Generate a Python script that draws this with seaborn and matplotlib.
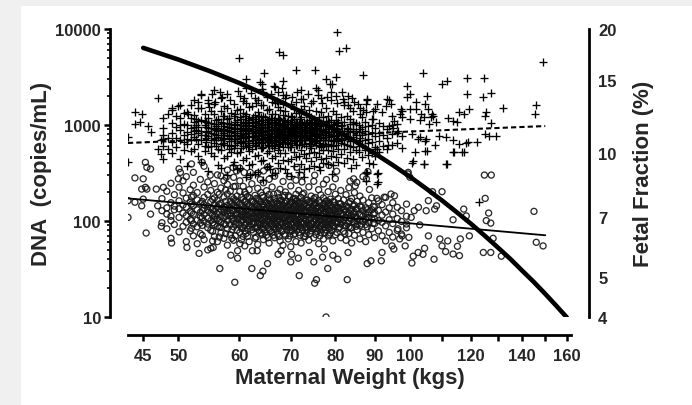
import matplotlib
matplotlib.use("Agg")
import matplotlib.pyplot as plt
import seaborn as sns
import pandas as pd
from matplotlib.patches import Rectangle
from matplotlib.ticker import NullLocator, NullFormatter, LogLocator

# total DNA (+): weight columns (kg) and the copies/mL read in each column
plus_col_kg = [
    47.8, 48.4, 49.0, 49.6, 50.2, 50.8, 51.3, 51.9, 52.4, 53.0,
    53.5, 54.1, 54.6, 55.2, 55.7, 56.3, 56.8, 57.4, 57.9, 58.5,
    59.0, 59.6, 60.1, 60.7, 61.2, 61.8, 62.3, 62.9, 63.4, 64.0,
    64.5, 65.1, 65.6, 66.2, 66.7, 67.3, 67.8, 68.4, 68.9, 69.5,
    70.0, 70.6, 71.1, 71.7, 72.2, 72.8, 73.3, 73.9, 74.4, 75.0,
    75.6, 76.1, 76.7, 77.2, 77.8, 78.3, 78.9, 79.5, 80.1, 80.7,
    81.4, 82.1, 82.8, 83.5, 84.3, 85.0, 85.8, 86.6, 87.4, 88.3,
    89.2, 90.1, 91.2, 92.3, 93.5, 94.8, 96.2, 97.8,
    # second pass over the dense core
    52.7, 54.3, 55.9, 57.1, 58.2, 59.3, 60.4, 61.0, 61.5, 62.6,
    63.1, 63.7, 64.3, 64.8, 65.4, 65.9, 66.5, 67.0, 67.6, 68.1,
    68.7, 69.2, 69.8, 70.3, 70.9, 71.4, 72.0, 72.5, 73.1, 73.6,
    74.2, 74.7, 75.3, 75.8, 76.4, 77.0, 77.5, 78.6, 79.7, 80.4,
    81.7, 83.0, 84.4, 86.0,
]
plus_col_dna = [
    [610, 940, 1170, 780],
    [730, 1290, 560],
    [505, 820, 1060, 1450, 670],
    [590, 960, 740, 1230],
    [440, 700, 890, 1180, 1630, 1010],
    [550, 1030, 1340, 790, 660],
    [375, 630, 845, 1000, 1380, 720],
    [690, 935, 1175, 540, 810],
    [565, 745, 960, 1260, 1840, 1070, 860],
    [470, 830, 1090, 1490, 640, 950],
    [415, 690, 875, 1120, 1520, 2040, 780],
    [610, 790, 990, 1300, 530, 1110],
    [335, 585, 765, 925, 1190, 1710, 860, 1040],
    [505, 695, 1060, 1400, 820, 610, 940],
    [475, 655, 815, 1025, 1310, 1640, 2330, 740, 900],
    [385, 560, 745, 935, 1160, 860, 1020],
    [355, 545, 705, 880, 1085, 1410, 1920, 630, 790],
    [455, 620, 795, 975, 1245, 1570, 710, 860],
    [300, 470, 625, 785, 955, 1160, 1510, 2120, 880, 1050],
    [525, 680, 850, 1030, 1330, 760, 920, 600],
    [410, 580, 720, 865, 1005, 1255, 1660, 790, 940],
    [345, 505, 655, 795, 935, 1125, 1430, 720, 1020],
    [355, 520, 685, 825, 995, 1210, 1460, 2010, 760, 900],
    [435, 605, 755, 895, 1065, 1340, 1790, 680, 970],
    [285, 455, 600, 750, 905, 1085, 1310, 1710, 2420, 830, 1000],
    [380, 535, 680, 820, 975, 1185, 1525, 620, 890],
    [395, 565, 695, 835, 965, 1155, 1560, 760, 1050],
    [310, 475, 625, 765, 905, 1065, 1285, 1910, 700, 840],
    [325, 485, 645, 775, 915, 1105, 1355, 1810, 720, 990],
    [420, 575, 715, 855, 1005, 1225, 1610, 650, 930],
    [265, 435, 595, 735, 875, 1025, 1255, 1610, 2210, 800, 960],
    [365, 515, 665, 805, 945, 1135, 1425, 720, 870],
    [375, 535, 685, 805, 955, 1155, 1455, 610, 1070],
    [305, 455, 605, 745, 885, 1045, 1305, 1755, 820, 680],
    [315, 475, 615, 755, 885, 1055, 1305, 1705, 2510, 930, 700],
    [405, 555, 705, 845, 995, 1195, 1555, 770, 630],
    [355, 515, 665, 805, 955, 1125, 1425, 880, 730],
    [435, 585, 735, 875, 1035, 1265, 1655, 2060, 810, 980],
    [345, 505, 655, 795, 935, 1105, 1405, 1910, 720],
    [425, 585, 725, 865, 1015, 1235, 640, 930],
    [295, 445, 595, 735, 875, 1035, 1255, 1655, 800, 1120],
    [375, 525, 675, 815, 965, 1155, 1485, 740],
    [465, 615, 765, 915, 1085, 1345, 1755, 690, 850],
    [325, 475, 625, 765, 905, 1075, 1325, 960],
    [395, 545, 695, 835, 995, 1205, 1455, 1860, 2310, 760],
    [345, 495, 635, 775, 915, 1085, 1565, 700],
    [455, 605, 745, 885, 1045, 1305, 820],
    [355, 505, 655, 795, 945, 1125, 1435, 730],
    [425, 575, 715, 855, 1015, 1225, 1705, 640],
    [375, 525, 665, 805, 955, 1155, 900],
    [465, 615, 765, 905, 1085, 1405, 700],
    [365, 515, 655, 805, 965, 1205, 600],
    [445, 595, 745, 885, 1045, 1355, 1905, 820],
    [405, 555, 695, 845, 1005, 1205, 630],
    [455, 605, 745, 905, 1105, 1505, 830],
    [395, 555, 695, 845, 1005, 1255, 640],
    [475, 625, 775, 935, 1125, 1805, 700],
    [385, 535, 685, 845, 995, 1405, 610],
    [465, 615, 765, 925, 1125, 1305, 2010, 850],
    [415, 565, 715, 875, 1065, 680],
    [495, 645, 795, 975, 1205, 740],
    [405, 565, 715, 875, 1085, 1605, 640],
    [455, 615, 765, 935, 1255, 860],
    [525, 685, 845, 1025, 1155, 600],
    [445, 595, 745, 905, 1085, 1405],
    [385, 545, 705, 865, 1055, 780],
    [525, 685, 845, 1005, 610],
    [465, 625, 785, 955, 1205],
    [545, 705, 875, 1065],
    [485, 645, 805, 985, 720],
    [505, 665, 825, 1005, 1155],
    [595, 765, 935, 560],
    [525, 685, 1055, 830],
    [605, 785, 985],
    [565, 725, 905],
    [625, 805, 1005],
    [645, 825, 1025],
    [575, 760],
    # second pass over the dense core
    [720, 1010, 880, 1150],
    [660, 850, 1080, 950, 740],
    [690, 880, 1120, 980, 790, 600],
    [730, 915, 1060, 835, 655, 1250],
    [680, 865, 1020, 775, 945, 1180, 560],
    [712, 908, 1075, 818, 624, 1300],
    [668, 857, 993, 782, 1150, 578, 922],
    [725, 893, 1048, 805, 642, 1230],
    [688, 862, 1003, 768, 938, 1135, 592],
    [742, 913, 1062, 828, 648, 1200],
    [702, 868, 1012, 792, 948, 603, 1144],
    [728, 897, 1054, 817, 663, 1252],
    [693, 858, 998, 783, 937, 582, 1128],
    [748, 921, 1068, 843, 668, 1213],
    [698, 878, 1023, 788, 953, 612],
    [733, 902, 1057, 822, 652, 1182],
    [682, 862, 1004, 776, 942, 572, 1122],
    [738, 912, 1072, 827, 658],
    [703, 873, 1017, 793, 952, 602, 1163],
    [728, 898, 1047, 818, 643],
    [692, 863, 1002, 778, 943, 1133],
    [752, 918, 1073, 838, 663],
    [698, 877, 1022, 787, 953, 592],
    [732, 903, 1063, 823, 648, 1203],
    [688, 858, 998, 783, 938],
    [743, 908, 1068, 832, 623],
    [702, 872, 1018, 788, 952, 1148],
    [727, 897, 1053, 817, 638],
    [693, 863, 1003, 778, 942],
    [748, 922, 1072, 842],
    [703, 878, 1023, 792, 603],
    [733, 898, 1058, 818],
    [688, 862, 1002, 783, 938],
    [738, 913, 1068, 828],
    [698, 872, 1018, 793],
    [732, 902, 1048, 622],
    [692, 857, 1003, 778],
    [742, 908, 1072],
    [703, 868, 1018, 792],
    [728, 903, 1052],
    [693, 858, 1003],
    [738, 912],
    [702, 872, 1022],
    [733, 898],
]

# total DNA (+): scattered points away from the core
plus_kg = [
    80.3, 80.8, 82.5, 67.5, 68.3, 60, 64.6, 71.2, 75.2, 68.3,
    61.3, 63.8, 64.2, 66.5, 67.4, 77.8, 78.8, 79.3, 80.1, 75.6, 76,
    47, 53.5, 55.3, 56.6, 49, 50, 52, 54.6,
    149, 87, 103.9, 110.1, 111.6, 118.7, 125, 118.7, 124.6, 127.6,
    99.2, 105.3, 94, 88, 99, 100, 102, 104.6, 132, 146, 145.5,
    116, 117.5, 119.5, 125.7, 125.3, 127.4, 112, 113.8, 115, 107, 107.3,
    97.7, 100, 97.7, 100, 94.8, 95.3, 103, 106, 108,
    103, 105, 109, 111.3, 113.8, 116, 119, 125.3, 126.8, 129.3, 122.2, 118.2,
    105.3, 111.3, 113.8, 117.5, 104.2, 101, 91, 91, 88.5, 88, 123,
    43, 43, 43.9, 44.8, 43.9, 44.6, 45.7, 46, 47, 47.4, 47.8, 47.8, 47.4,
    93.5, 94.5, 93, 90.6, 90, 88, 87.8, 89.5, 92,
    97.5, 97, 101.8, 103.3, 104.3, 105.5, 106.4,
    100.5, 102.6, 104.6, 107.8, 101.6, 104.6, 100.5, 104.3, 111.7, 114, 117,
    93.6, 90.6, 90, 89.5, 87.8, 90.6, 90.6, 87.8, 94, 95, 96.5,
    82, 83.5, 84, 85.5, 86, 87, 81.5, 83,
    55.8, 57.0, 58.3, 59.8, 60.9, 62.1, 63.0, 64.2, 65.2, 66.0, 67.1,
    68.2, 69.0, 70.2, 71.3, 72.6, 73.7, 74.8, 75.9, 76.9, 78.1, 79.0,
    80.4, 81.9, 83.2, 84.7, 86.2, 87.8, 89.5, 54.8, 53.0, 51.5,
    58.8, 62.0, 65.8, 69.3, 72.9, 76.3, 79.2, 83.9,
]
plus_dna = [
    9300, 5900, 6400, 5700, 5300, 5000, 3500, 3700, 3750, 2900,
    3000, 2800, 2700, 2550, 2200, 3000, 2700, 2700, 3200, 2400, 2300,
    1900, 2100, 2100, 2200, 1520, 1580, 1600, 1800,
    4500, 3300, 3500, 2700, 2850, 3100, 3100, 2100, 1950, 2150,
    2550, 2000, 1800, 1820, 1950, 2100, 1740, 1670, 1500, 1600, 1290,
    1360, 1310, 1470, 1380, 1230, 1050, 1180, 1110, 1070, 1300, 1250,
    1400, 1470, 1200, 1160, 1250, 1110, 1130, 1030, 1070,
    745, 715, 765, 745, 690, 630, 670, 805, 770, 760, 660, 650,
    540, 395, 520, 520, 395, 425, 320, 255, 405, 320, 157,
    755, 408, 1355, 1300, 1025, 1065, 985, 840, 560, 500, 440, 715, 690,
    1870, 1670, 1590, 1670, 1470, 1870, 1350, 1160, 1350,
    1470, 1300, 1470, 1300, 1200, 1470, 1200,
    806, 714, 688, 612, 520, 540, 405, 393, 393, 520, 520,
    612, 562, 480, 393, 321, 309, 245, 264, 985, 930, 860,
    1750, 1500, 1900, 1650, 1300, 1450, 2200, 2000,
    1750, 1980, 1820, 2250, 1900, 2150, 1700, 2350, 1950, 2100, 1780,
    2450, 2050, 1950, 2200, 1880, 2100, 1760, 2050, 1700, 1950, 2200,
    1700, 1850, 1600, 1750, 1500, 1650, 1400, 1550, 1750, 1300,
    380, 300, 350, 320, 290, 340, 310, 360,
]

# fetal DNA (o): weight columns (kg) and the copies/mL read in each column
circ_col_kg = [
    47.6, 48.3, 48.9, 49.4, 50.1, 50.7, 51.2, 51.8, 52.3, 52.9,
    53.4, 54.0, 54.6, 55.1, 55.7, 56.2, 56.8, 57.3, 57.9, 58.4,
    59.0, 59.6, 60.1, 60.7, 61.2, 61.8, 62.3, 62.9, 63.4, 64.0,
    64.5, 65.1, 65.6, 66.2, 66.7, 67.3, 67.8, 68.4, 68.9, 69.5,
    70.0, 70.6, 71.1, 71.7, 72.2, 72.8, 73.3, 73.9, 74.4, 75.0,
    75.5, 76.1, 76.6, 77.2, 77.7, 78.3, 78.8, 79.4, 80.0, 80.7,
    81.3, 82.0, 82.6, 83.3, 84.0, 84.7, 85.4, 86.1, 86.9, 87.6,
    88.4, 89.2, 90.0, 91.0, 92.0, 93.0, 94.0, 95.0, 96.3, 97.5,
    99.0,
    # second pass over the dense core
    52.0, 53.7, 55.4, 56.5, 57.6, 58.7, 59.3, 60.4, 61.0, 61.5,
    62.6, 63.1, 63.7, 64.3, 64.8, 65.4, 65.9, 66.5, 67.0, 67.6,
    68.1, 68.7, 69.2, 69.8, 70.3, 70.9, 71.4, 72.0, 72.5, 73.1,
    73.6, 74.2, 74.7, 75.3, 75.8, 76.4, 76.9, 77.5, 78.0, 78.6,
    79.1, 79.7, 80.4, 81.0, 81.7, 82.3, 83.0, 83.7, 84.4, 85.1,
    86.5, 88.0, 89.6,
]
circ_col_dna = [
    [96, 171, 128],
    [83, 137, 204, 118],
    [66, 112, 155, 247, 101],
    [92, 143, 188, 131],
    [77, 109, 162, 225, 350, 134],
    [88, 121, 147, 196, 262],
    [61, 97, 139, 173, 114, 290],
    [79, 126, 104, 158, 212],
    [70, 118, 93, 184, 145, 236, 321],
    [58, 102, 131, 166, 87, 198],
    [74, 111, 152, 123, 271, 95],
    [64, 99, 135, 117, 176, 148, 226, 372],
    [85, 107, 142, 93, 189, 129, 255],
    [52, 80, 121, 101, 159, 136, 208],
    [69, 113, 92, 148, 127, 174, 245, 104],
    [61, 88, 119, 105, 163, 140, 199, 302],
    [75, 97, 131, 112, 153, 221, 86],
    [66, 124, 94, 140, 108, 178, 132, 263],
    [56, 83, 117, 101, 145, 128, 191, 241, 340],
    [72, 92, 136, 113, 160, 122, 205],
    [63, 99, 87, 129, 147, 108, 170, 228, 285],
    [80, 115, 95, 138, 121, 182, 156, 104],
    [58, 76, 109, 131, 92, 150, 119, 203, 262, 355],
    [69, 102, 86, 125, 142, 111, 167, 230],
    [74, 95, 134, 117, 158, 105, 189, 129],
    [61, 89, 113, 99, 146, 124, 176, 212, 290],
    [81, 107, 93, 137, 120, 160, 141, 244],
    [66, 98, 118, 84, 130, 152, 109, 185, 138],
    [57, 87, 110, 126, 96, 144, 170, 121, 219, 315],
    [75, 103, 91, 133, 115, 158, 198, 127],
    [64, 94, 122, 108, 139, 85, 176, 147, 250],
    [71, 100, 117, 136, 90, 155, 129, 207],
    [59, 82, 112, 97, 143, 124, 166, 189, 272],
    [77, 105, 91, 128, 114, 150, 135, 226],
    [67, 96, 120, 84, 140, 107, 172, 131, 293],
    [73, 101, 88, 126, 153, 116, 195, 142],
    [62, 92, 111, 134, 99, 163, 121, 214],
    [56, 80, 106, 123, 145, 95, 178, 131, 258],
    [70, 98, 115, 87, 137, 160, 109, 201],
    [65, 91, 119, 104, 148, 127, 184, 138],
    [54, 78, 102, 130, 93, 156, 117, 232],
    [72, 96, 84, 121, 143, 108, 170, 134],
    [61, 89, 113, 127, 100, 161, 190, 145, 266],
    [76, 103, 92, 132, 118, 152, 208],
    [59, 85, 110, 97, 140, 124, 176, 299],
    [69, 94, 122, 106, 149, 131, 195],
    [74, 100, 88, 128, 114, 165, 141],
    [63, 91, 117, 103, 138, 158, 227],
    [79, 107, 95, 130, 121, 182],
    [67, 98, 115, 86, 146, 127, 171, 259],
    [72, 104, 92, 135, 118, 154],
    [58, 83, 111, 125, 99, 163, 141, 212],
    [76, 101, 89, 130, 115, 187],
    [65, 94, 120, 107, 148, 133, 174, 243],
    [81, 109, 97, 138, 124, 160],
    [70, 99, 86, 128, 113, 152, 202],
    [75, 104, 118, 93, 143, 169],
    [62, 89, 112, 131, 101, 159, 226],
    [72, 96, 121, 108, 146, 134, 190, 276],
    [84, 110, 98, 139, 125, 171],
    [67, 93, 118, 104, 151, 208],
    [78, 102, 131, 115, 166],
    [63, 90, 109, 142, 124, 188],
    [74, 100, 121, 87, 155, 222],
    [59, 85, 113, 132, 104, 171],
    [71, 97, 124, 110, 147, 198],
    [81, 106, 93, 135, 160],
    [65, 89, 117, 102, 143, 182],
    [76, 99, 128, 112, 165],
    [61, 92, 118, 137, 104],
    [72, 96, 124, 109, 155],
    [83, 107, 131, 174],
    [67, 94, 121, 140, 105],
    [79, 101, 129, 162],
    [70, 97, 115, 148],
    [62, 89, 124, 176],
    [76, 103, 137],
    [68, 94, 118, 155],
    [80, 106, 139],
    [73, 99, 128],
    [85, 112, 150],
    # second pass over the dense core
    [84, 122, 150, 101, 178],
    [90, 128, 108, 160, 71],
    [96, 133, 115, 168, 78, 62],
    [86, 124, 102, 149, 190, 68],
    [92, 112, 138, 160, 74, 210],
    [81, 104, 128, 152, 178, 66],
    [93, 118, 142, 70, 165, 230],
    [84, 101, 126, 148, 176, 64, 115],
    [90, 110, 137, 160, 79, 200],
    [82, 103, 129, 150, 69, 180, 116],
    [93, 112, 133, 158, 76, 97],
    [86, 106, 124, 147, 172, 68],
    [95, 114, 138, 162, 80, 105],
    [83, 101, 127, 150, 185, 72],
    [91, 110, 132, 158, 77, 120],
    [85, 104, 126, 149, 174, 67],
    [94, 113, 137, 163, 79, 101],
    [87, 108, 130, 155, 71, 190],
    [92, 111, 135, 159, 82, 100],
    [84, 103, 125, 149, 176, 69],
    [95, 116, 139, 164, 78],
    [88, 107, 129, 154, 73, 185],
    [93, 112, 134, 160, 81, 100],
    [85, 105, 127, 151, 70, 178],
    [91, 110, 132, 157, 79],
    [86, 104, 126, 150, 74, 172],
    [95, 114, 137, 162, 82],
    [88, 107, 129, 155, 71],
    [93, 112, 134, 160, 80, 190],
    [85, 104, 126, 151, 69],
    [96, 115, 138, 165, 81],
    [87, 108, 130, 156, 74],
    [92, 111, 135, 160, 83],
    [84, 103, 125, 150, 176],
    [95, 116, 139, 78],
    [88, 107, 129, 155, 70],
    [93, 112, 134, 82],
    [86, 104, 126, 151, 75],
    [91, 114, 137, 162],
    [84, 106, 128, 154, 72],
    [95, 117, 140, 80],
    [88, 109, 131, 158],
    [93, 113, 136, 76],
    [86, 105, 127, 152],
    [97, 118, 141],
    [89, 109, 132, 74],
    [94, 115, 138],
    [85, 106, 128, 160],
    [98, 119, 143],
    [88, 110, 133],
    [93, 116, 139],
    [87, 108, 131],
    [95, 118, 142],
]

# fetal DNA (o): scattered points away from the core
circ_kg = [
    77.8, 59.2, 56.6, 62.3, 65.3, 63.9, 64.4, 71.8, 75.2, 75.6, 78.2, 82.9,
    77, 75, 70, 71.6, 59.7, 58.5, 59.7, 45.4, 47.5, 49, 51.3, 53.2,
    54.6, 55.5, 61, 62.4, 63.3, 67.4, 68, 70.2, 74, 77.4, 79.4, 80.6, 83.1,
    45.3, 46, 45.5, 43.9, 45, 45.3, 44.8, 45.5, 43, 43.9, 44.8, 45, 43, 46, 47, 47.8, 46.8, 50.3, 50,
    125, 127.6, 125.3, 145, 146, 149, 126.6, 125.7, 127.4, 128.3, 131.5, 124.6, 127.4,
    117.5, 118.4, 113.8, 119.5, 116.3, 115.3, 116, 113.8, 111.3, 110.1, 107, 105.7,
    107.7, 105, 108.3, 102.6, 101.3, 100.4, 99, 103, 105.7, 109.4, 110.1, 112,
    101, 100.6, 104.5, 107.5, 104, 102.5, 99.4, 99.5, 100, 94.5, 95.5, 92.6,
    90.6, 88.6, 87.8, 88.2, 84.5, 85.3, 84.9, 92, 91.8, 89, 88,
    96.5, 97.7, 99.7, 97, 98.6, 94.8, 95.3, 52, 53.7, 56.8, 59.5, 62, 64.5, 71.3, 78.5,
    57.7, 60.9, 63.9, 66.9, 69.7, 72.4, 75.2, 77.9, 80.3, 83.6, 86.9, 55.0, 58.9, 65.3,
]
circ_dna = [
    10, 23, 32, 32, 36, 27, 30, 27, 22.5, 24.5, 32, 24.5,
    42, 37.5, 37.5, 41, 41, 44, 49, 75, 88, 59, 53, 46,
    50, 53, 55, 49, 49, 45, 49, 45, 47, 51, 44, 40, 47,
    408, 348, 362, 281, 275, 224, 215, 215, 163, 157, 144, 169, 109, 118, 144, 224, 215, 321, 275,
    301, 301, 172, 126, 60, 55, 121, 101, 95, 66, 43, 47, 47,
    133, 113, 103, 70, 65, 54.5, 43.6, 45.3, 48, 202, 202, 163,
    133, 128, 144, 139, 128, 109, 93, 91, 70, 65, 55, 62,
    43, 36.5, 52, 40, 45, 47, 309, 321, 286, 191, 183, 177,
    172, 213, 275, 327, 275, 253, 232, 47, 38.5, 38.5, 36,
    83, 70, 67.5, 65, 55, 55, 51, 393, 408, 295, 332, 321, 332, 362, 379,
    285, 320, 270, 330, 290, 255, 300, 270, 330, 260, 290, 300, 360, 365,
]

# regression lines
fit_plus_kg = [43, 150]
fit_plus_dna = [650, 975]
fit_circ_kg = [43, 150]
fit_circ_dna = [172, 71]

# fetal fraction curve (right axis, %)
ff_kg = [45, 50, 55, 60, 65, 70, 75, 80, 85, 90, 95, 100,
         105, 110, 115, 120, 125, 130, 135, 140, 145, 150, 155, 160]
ff_pct = [18.00, 16.86, 15.79, 14.79, 13.85, 12.97, 12.15, 11.38, 10.66, 9.98, 9.35, 8.76,
          8.20, 7.68, 7.19, 6.74, 6.31, 5.91, 5.54, 5.18, 4.86, 4.55, 4.26, 3.99]

xtick_vals = [45, 50, 60, 70, 80, 90, 100, 110, 120, 130, 140, 150, 160]
xtick_labels = ["45", "50", "60", "70", "80", "90", "100", "", "120", "", "140", "", "160"]
ytick_vals = [10, 100, 1000, 10000]
ytick_labels = ["10", "100", "1000", "10000"]
rtick_vals = [4, 5, 6, 7, 8, 9, 10, 15, 20]
rtick_labels = ["4", "5", "", "7", "", "", "10", "15", "20"]

assert len(plus_col_kg) == len(plus_col_dna), (len(plus_col_kg), len(plus_col_dna))
assert len(circ_col_kg) == len(circ_col_dna), (len(circ_col_kg), len(circ_col_dna))
assert len(plus_kg) == len(plus_dna), (len(plus_kg), len(plus_dna))
assert len(circ_kg) == len(circ_dna), (len(circ_kg), len(circ_dna))

plus_df = pd.concat([
    pd.DataFrame({"kg": [k] * len(v), "dna": v}) for k, v in zip(plus_col_kg, plus_col_dna)
] + [pd.DataFrame({"kg": plus_kg, "dna": plus_dna})], ignore_index=True)
circ_df = pd.concat([
    pd.DataFrame({"kg": [k] * len(v), "dna": v}) for k, v in zip(circ_col_kg, circ_col_dna)
] + [pd.DataFrame({"kg": circ_kg, "dna": circ_dna})], ignore_index=True)

sns.set_style("ticks")
plt.rcParams["font.family"] = ["Liberation Sans", "DejaVu Sans"]
plt.rcParams["font.weight"] = "bold"

fig = plt.figure(figsize=(6.92, 4.06), dpi=100)
fig.patch.set_facecolor("#f0f0f0")
fig.add_artist(Rectangle((21 / 692, 0), 1 - 21 / 692, 1 - 7 / 406,
                         transform=fig.transFigure, facecolor="white",
                         edgecolor="none", zorder=-10))

ax = fig.add_axes([128 / 692, 1 - 318 / 406, 443 / 692, 288 / 406])
ax.set_facecolor("none")
ax2 = ax.twinx()

sns.scatterplot(data=circ_df, x="kg", y="dna", ax=ax, marker="o", s=19,
                facecolor="none", edgecolor="#151515", linewidth=0.95,
                alpha=0.9, zorder=2)
sns.scatterplot(data=plus_df, x="kg", y="dna", ax=ax, marker="+", s=28,
                color="black", linewidth=0.95, zorder=3)

sns.lineplot(x=fit_plus_kg, y=fit_plus_dna, ax=ax, color="black", lw=1.5,
             estimator=None, sort=False, zorder=4)
ax.lines[-1].set_dashes((2.5, 1.5))
sns.lineplot(x=fit_circ_kg, y=fit_circ_dna, ax=ax, color="black", lw=1.3,
             estimator=None, sort=False, zorder=4)

sns.lineplot(x=ff_kg, y=ff_pct, ax=ax2, color="black", lw=3.3,
             estimator=None, sort=False, solid_capstyle="round")

ax.set_xscale("log")
ax.set_yscale("log")
ax.set_xlim(43, 162)
ax.set_ylim(10, 10000)
ax.set_xticks(xtick_vals, labels=xtick_labels)
ax.xaxis.set_minor_locator(NullLocator())
ax.set_yticks(ytick_vals, labels=ytick_labels)
ax.yaxis.set_minor_locator(LogLocator(base=10, subs=range(2, 10)))
ax.yaxis.set_minor_formatter(NullFormatter())

ax2.set_yscale("log")
ax2.set_ylim(4, 20)
ax2.set_yticks(rtick_vals, labels=rtick_labels)
ax2.yaxis.set_minor_locator(NullLocator())

sns.despine(ax=ax, offset=13)
sns.despine(ax=ax2, offset=13, left=True, bottom=True, right=False)

for a in (ax, ax2):
    for sp in a.spines.values():
        sp.set_linewidth(2.0)
        sp.set_color("black")

ax.tick_params(axis="x", which="major", length=4, width=1.8, labelsize=12,
               pad=5, color="black")
ax.tick_params(axis="y", which="major", length=4, width=1.8, labelsize=12,
               pad=2.5, color="black")
ax.tick_params(axis="y", which="minor", length=2.5, width=1.2, color="black")
ax2.tick_params(axis="y", which="major", length=4, width=1.8, labelsize=12,
                pad=2.5, color="black")

ax.set_xlabel("Maternal Weight (kgs)", fontsize=16, fontweight="bold")
ax.xaxis.set_label_coords(0.5, -0.175)
ax.set_ylabel("DNA  (copies/mL)", fontsize=16, fontweight="bold")
ax.yaxis.set_label_coords(-0.172, 0.5)
ax2.set_ylabel("Fetal Fraction (%)", fontsize=16, fontweight="bold")
ax2.yaxis.set_label_coords(1.14, 0.5)

fig.savefig("out.png", dpi=100)
